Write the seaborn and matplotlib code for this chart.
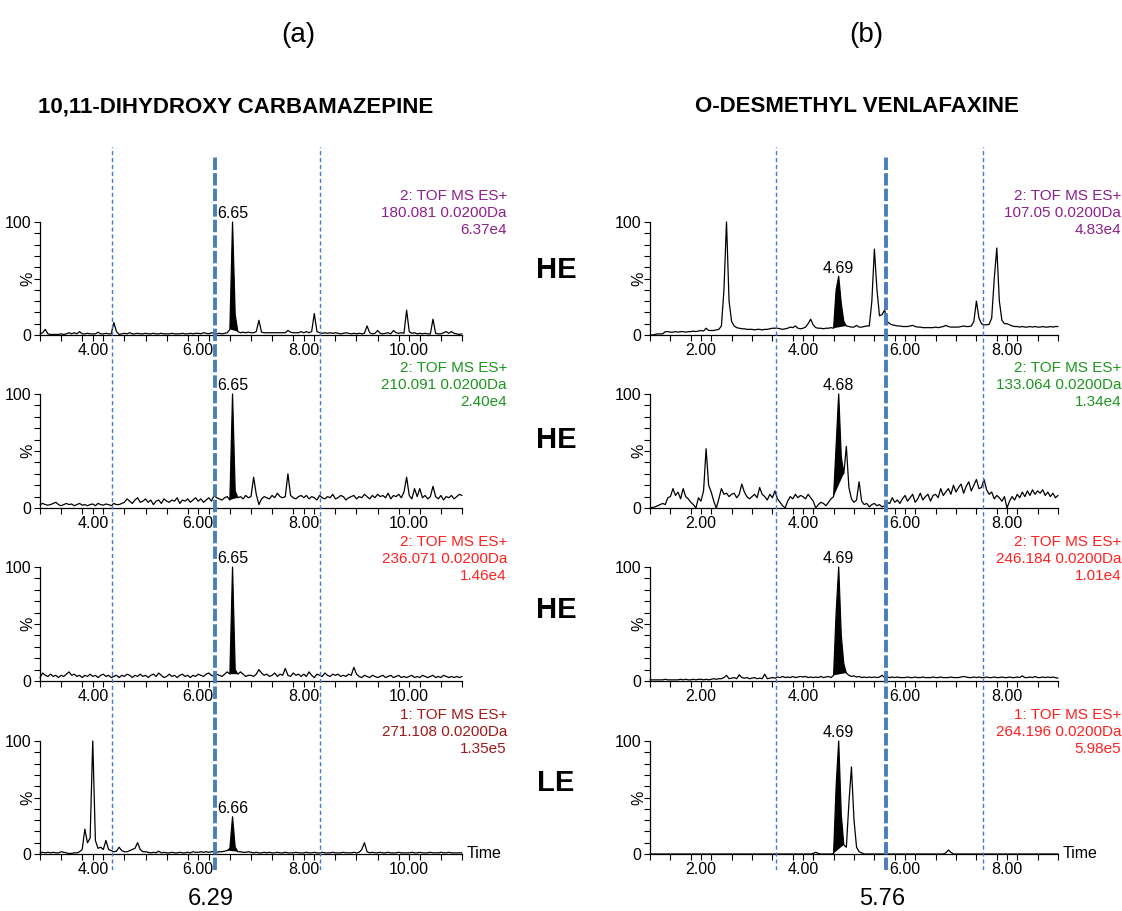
import numpy as np
import matplotlib
matplotlib.use("Agg")
import matplotlib.pyplot as plt
import seaborn as sns
from matplotlib.ticker import FixedLocator

sns.set_style("ticks")
plt.rcParams["font.family"] = ["Liberation Sans", "DejaVu Sans"]
plt.rcParams["text.color"] = "black"
plt.rcParams["axes.labelcolor"] = "black"
plt.rcParams["xtick.color"] = "black"
plt.rcParams["ytick.color"] = "black"
plt.rcParams["axes.edgecolor"] = "black"

# ---------------- data ----------------
# scan times (min)
time_a = np.round(np.arange(3.0, 11.0001, 0.05), 2)
time_b = np.round(np.arange(1.0, 9.0001, 0.05), 2)

# (a) 10,11-dihydroxy carbamazepine, relative intensity (%)
a_180 = ([1, 2, 5, 1, 0.5, 0.5, 0.5, 0.5, 1, 0.5, 1, 2, 1, 2, 1, 3, 1, 1, 1.5, 1]
         + [1, 1, 2.5, 1, 1, 1.5, 1, 1, 11, 3, 0.5, 1, 1.5, 1, 2, 1, 1, 1.5, 1, 1]
         + [1.5, 1, 1, 1.5, 1, 1, 1.5, 1, 1, 1, 1.5, 1, 1, 1, 1.5, 1, 1, 1.5, 1, 1.5]
         + [1.5, 1, 2, 1.5, 1, 2, 1.5, 1, 1.5, 1, 1.5, 2, 5, 100, 18, 3, 2, 2.5, 2, 2.5]
         + [2, 2, 3, 13, 2.5, 2, 2, 2, 2, 2, 2, 2, 2, 2, 4, 2.5, 2, 2, 2, 3]
         + [2, 3, 2, 3, 19, 3, 2, 1.5, 2, 1.5, 2, 1.5, 2, 1.5, 1, 1.5, 2, 1.5, 1, 1.5]
         + [1, 1.5, 1, 1.5, 8, 2, 1, 1.5, 4, 1.5, 1, 1.5, 2, 1, 4, 2, 1.5, 2, 1.5, 22]
         + [3, 1.5, 2, 1, 1.5, 1, 1.5, 1, 1, 14, 1.5, 1, 1, 2, 3, 1.5, 3, 1.5, 1, 0.5]
         + [1])
a_210 = ([3, 4, 3, 2.5, 3, 4, 5, 3, 2, 3, 4, 3, 3.5, 2, 3, 4, 2.5, 3, 2, 3]
         + [3.5, 2, 4, 3, 2.5, 3.5, 3, 2, 4, 3, 3, 4, 5, 8, 6, 4, 7, 9, 5, 6]
         + [8, 5, 7, 3, 6, 7, 4, 8, 6, 5, 7, 6, 9, 4, 7, 6, 8, 5, 7, 9]
         + [6, 8, 5, 7, 9, 6, 11, 9, 8, 7, 9, 10, 7, 100, 15, 9, 10, 8, 11, 9]
         + [10, 27, 12, 3, 8, 10, 9, 8, 11, 9, 13, 10, 9, 10, 30, 11, 9, 8, 10, 11]
         + [9, 11, 8, 10, 9, 7, 11, 9, 8, 10, 9, 12, 8, 9, 11, 10, 7, 9, 10, 11]
         + [8, 10, 9, 12, 10, 8, 11, 9, 12, 10, 11, 9, 13, 8, 11, 10, 12, 9, 14, 27]
         + [11, 8, 17, 10, 17, 9, 11, 8, 10, 19, 10, 8, 11, 7, 10, 9, 11, 8, 10, 12]
         + [11])
a_236 = ([3, 7, 5, 4, 6, 4, 5, 3, 5, 4, 6, 8, 5, 6, 4, 5, 3, 5, 4, 6]
         + [4, 5, 3, 5, 6, 4, 5, 3, 4, 5, 3, 5, 4, 6, 5, 3, 5, 4, 6, 4]
         + [5, 3, 5, 6, 4, 7, 5, 3, 4, 6, 4, 5, 3, 5, 6, 4, 5, 3, 5, 4]
         + [6, 5, 4, 6, 7, 5, 4, 6, 5, 4, 6, 8, 6, 100, 10, 6, 8, 6, 4, 5]
         + [5, 4, 6, 10, 7, 5, 6, 4, 5, 7, 4, 6, 5, 11, 5, 4, 7, 5, 6, 4]
         + [6, 4, 8, 5, 3, 6, 5, 4, 7, 5, 4, 6, 5, 6, 4, 5, 4, 6, 5, 12]
         + [6, 4, 3, 5, 4, 3, 5, 4, 3, 4, 5, 3, 4, 5, 3, 4, 5, 3, 4, 3]
         + [4, 5, 3, 4, 3, 5, 4, 3, 4, 5, 3, 4, 3, 5, 4, 3, 4, 3, 4, 3]
         + [4])
a_271 = ([1, 1.5, 1, 1.5, 1, 1.5, 1, 1, 2, 1.5, 1, 0.5, 0.5, 1, 1, 2, 4, 22, 10, 14]
         + [100, 12, 5, 6, 4, 12, 4, 3, 2, 2.5, 6, 3, 2, 2, 3, 4, 5, 10, 4, 2]
         + [2, 1.5, 1, 1.5, 1, 2.5, 1, 1.5, 1, 1, 1.5, 1, 1, 1.5, 1, 1, 1.5, 1, 2, 1.5]
         + [1.5, 2, 1.5, 2, 1.5, 2, 2, 1.5, 2, 2, 2.5, 3, 5, 33, 6, 2, 2, 1.5, 1.5, 2]
         + [1.5, 1, 1.5, 1, 1, 1.5, 1, 1.5, 1, 1, 1.5, 1, 1, 1.5, 1, 1, 1, 1.5, 1, 1]
         + [1, 1.5, 1, 1, 1.5, 1, 1, 1.5, 1, 1, 1, 1.5, 1, 1, 1, 1.5, 1, 1, 1, 1.5]
         + [1, 1.5, 4, 10, 2, 1, 1.5, 1, 1, 1.5, 1, 1, 1.5, 1, 1, 1, 1.5, 1, 1, 1]
         + [1, 1.5, 1, 1, 1.5, 1, 1, 1, 1.5, 1, 1, 1, 1.5, 1, 1, 1.5, 1, 1, 1, 1]
         + [1])

# (b) O-desmethyl venlafaxine, relative intensity (%)
b_107 = ([0, 0, 0.5, 1, 1, 1, 3, 3, 2.5, 2.5, 3, 2.5, 3, 3, 2.5, 3, 3, 3.5, 3, 3.5]
         + [4, 3.5, 6, 4, 4, 4, 4.5, 5, 8, 40, 100, 30, 12, 8, 6.5, 6, 5.5, 5.5, 5, 5]
         + [5, 4.5, 5, 5, 4.5, 5, 5, 5.5, 6, 6, 6, 5.5, 5, 5.5, 6, 7, 6.5, 8, 6, 5.5]
         + [6, 7, 10, 14, 9, 6.5, 6, 6, 5.5, 6, 6, 6.5, 6, 40, 52, 28, 12, 8, 7.5, 7]
         + [7, 8.5, 7, 7, 7.5, 8, 8, 30, 76, 40, 17, 18, 22, 12, 10, 9, 8.5, 8, 8, 7.5]
         + [7.5, 7.5, 8, 8.5, 7.5, 7, 7, 6.5, 6.5, 6.5, 6.5, 6.5, 7, 6.5, 7, 7.5, 8.5, 7.5, 7, 7]
         + [7, 7, 7.5, 8, 7.5, 7.5, 8, 12, 30, 15, 10, 9, 9, 9.5, 15, 50, 77, 30, 13, 10]
         + [10, 9, 8, 7.5, 7.5, 7, 7.5, 7, 7, 7.5, 7, 7.5, 7, 7, 7.5, 7, 7, 7.5, 7, 7.5]
         + [7.5])
b_133 = ([0, 0.5, 1, 2, 3, 4, 3, 9, 10, 17, 11, 14, 8, 17, 10, 8, 5, 3, 0, 9]
         + [6, 15, 52, 20, 14, 6, 0, 8, 17, 12, 13, 10, 12, 13, 9, 12, 21, 14, 10, 8]
         + [10, 12, 9, 18, 12, 10, 7, 12, 9, 15, 8, 5, 2, 0, 6, 10, 8, 12, 9, 11]
         + [10, 8, 12, 9, 6, 0, 3, 5, 4, 2, 5, 8, 10, 55, 100, 45, 30, 54, 18, 8]
         + [5, 7, 23, 6, 3, 4, 1, 3, 4, 2, 3, 1, 2, 5, 4, 9, 5, 7, 4, 8]
         + [11, 6, 9, 12, 5, 8, 13, 7, 10, 12, 6, 11, 12, 9, 17, 11, 14, 17, 12, 20]
         + [14, 18, 21, 13, 19, 23, 15, 20, 25, 17, 18, 25, 16, 12, 14, 8, 11, 9, 6, 10]
         + [0, 6, 10, 7, 12, 9, 14, 10, 15, 11, 16, 12, 15, 13, 16, 11, 14, 10, 13, 9]
         + [11])
b_246 = ([1, 1, 1, 1, 1, 1, 1.5, 1, 1, 1, 1, 1, 1.5, 1, 1.5, 1, 1, 1.5, 1, 1.5]
         + [1.5, 1, 1.5, 1, 1.5, 2, 1.5, 2, 2, 3, 5, 2, 2.5, 3, 2, 5.5, 3, 2.5, 3, 2]
         + [2.5, 3, 2, 2.5, 2, 6, 2, 2.5, 3, 2.5, 3.5, 3, 4, 3, 3.5, 3, 4, 3, 3.5, 4]
         + [3.5, 4, 3, 3.5, 3, 3.5, 3, 4, 3, 3.5, 4, 3, 5, 60, 100, 40, 15, 7, 5, 4]
         + [4.5, 3.5, 4, 3, 3.5, 3, 3.5, 3, 3.5, 3, 3.5, 5, 3, 3.5, 3, 3.5, 3, 3.5, 3, 3]
         + [3, 3.5, 3, 3, 3.5, 3, 3, 3.5, 3, 3, 3, 3.5, 3, 3, 3.5, 3, 3, 3, 3.5, 3]
         + [3, 3, 3.5, 4, 3.5, 3, 3, 3.5, 3, 3.5, 3, 3, 3.5, 3, 3, 3.5, 3, 3, 3.5, 3]
         + [3, 3.5, 3, 3, 3.5, 3, 4.5, 3, 3, 3.5, 3, 4, 3, 3, 3.5, 3, 3.5, 3, 3.5, 3]
         + [2.5])
b_264 = ([0] * 20 + [0] * 20 + [0] * 20
         + [0, 0, 0, 0, 0.5, 1.5, 0.5, 0, 0, 0, 0, 0, 0.5, 60, 100, 35, 8, 6, 45, 77]
         + [30, 6, 2, 1] + [0] * 16
         + [0] * 16 + [1, 3.5, 1.5, 0]
         + [0] * 20 + [0] * 20
         + [0])

# channel annotations
chan_a = ["2: TOF MS ES+\n180.081 0.0200Da\n6.37e4",
          "2: TOF MS ES+\n210.091 0.0200Da\n2.40e4",
          "2: TOF MS ES+\n236.071 0.0200Da\n1.46e4",
          "1: TOF MS ES+\n271.108 0.0200Da\n1.35e5"]
chan_b = ["2: TOF MS ES+\n107.05 0.0200Da\n4.83e4",
          "2: TOF MS ES+\n133.064 0.0200Da\n1.34e4",
          "2: TOF MS ES+\n246.184 0.0200Da\n1.01e4",
          "1: TOF MS ES+\n264.196 0.0200Da\n5.98e5"]
chan_colors_a = ["#8e1f8e", "#1e961e", "#ff2020", "#a01818"]
chan_colors_b = ["#8e1f8e", "#1e961e", "#ff2020", "#ff2020"]
peak_labels_a = ["6.65", "6.65", "6.65", "6.66"]
peak_labels_b = ["4.69", "4.68", "4.69", "4.69"]
fill_a = [(6.60, 6.75), (6.60, 6.75), (6.60, 6.75), (6.55, 6.75)]
fill_b = [(4.60, 4.85), (4.60, 4.80), (4.60, 4.85), (4.60, 4.80)]
energy_labels = ["HE", "HE", "HE", "LE"]
marks_a = [4.37, 6.31, 8.31]
marks_b = [3.47, 5.63, 7.53]
window_a = "6.29"
window_b = "5.76"

# ---------------- layout ----------------
W, H = 1122, 911
fig = plt.figure(figsize=(W / 100, H / 100), dpi=100)
fig.patch.set_facecolor("white")


def fx(px):
    return px / W


def fy(py):
    return 1 - py / H


cols = [
    dict(x0=40, x1=462, xlim=(3.0, 11.0), time=time_a, traces=[a_180, a_210, a_236, a_271],
         chan=chan_a, ccol=chan_colors_a, plab=peak_labels_a, fills=fill_a,
         xt=[4, 6, 8, 10], text_right=507, marks=marks_a, title="10,11-DIHYDROXY CARBAMAZEPINE",
         title_x=236, tag="(a)", tag_x=298, win=window_a, win_x=211, ylab=-0.012),
    dict(x0=650, x1=1058, xlim=(1.0, 9.0), time=time_b, traces=[b_107, b_133, b_246, b_264],
         chan=chan_b, ccol=chan_colors_b, plab=peak_labels_b, fills=fill_b,
         xt=[2, 4, 6, 8], text_right=1121, marks=marks_b, title="O-DESMETHYL VENLAFAXINE",
         title_x=857, tag="(b)", tag_x=866, win=window_b, win_x=882, ylab=-0.010),
]
rows = [(222, 335), (394, 508), (567, 681), (741, 854)]
text_mid = [213, 385, 559, 732]
energy_y = [270, 440, 610, 783]

for c in cols:
    t = np.asarray(c["time"])
    for r, (ytop, ybot) in enumerate(rows):
        ax = fig.add_axes([fx(c["x0"]), fy(ybot), fx(c["x1"] - c["x0"]), (ybot - ytop) / H])
        ax.patch.set_alpha(0)
        y = np.asarray(c["traces"][r], dtype=float)
        sns.lineplot(x=t, y=y, ax=ax, color="black", linewidth=0.9,
                     estimator=None, sort=False)
        for ln in ax.get_lines():
            ln.set_clip_on(False)
        f0, f1 = c["fills"][r]
        m = (t >= f0 - 1e-6) & (t <= f1 + 1e-6)
        ax.fill(t[m], y[m], color="black", linewidth=0, zorder=3)
        i_apex = int(np.argmax(np.where(m, y, -1)))
        ax.annotate(c["plab"][r], xy=(t[i_apex], y[i_apex]), xytext=(0, 0.5),
                    textcoords="offset points", ha="center", va="bottom",
                    fontsize=11.5, annotation_clip=False)
        ax.set_xlim(*c["xlim"])
        ax.set_ylim(0, 100)
        sns.despine(ax=ax)
        ax.spines["left"].set_linewidth(0.9)
        ax.spines["bottom"].set_linewidth(0.9)
        ax.set_yticks([0, 100])
        ax.set_yticklabels(["0", "100"])
        ax.yaxis.set_minor_locator(FixedLocator(np.arange(10, 100, 10)))
        ax.set_xticks(c["xt"])
        ax.set_xticklabels([f"{v:.2f}" for v in c["xt"]])
        ax.xaxis.set_minor_locator(FixedLocator(np.arange(c["xlim"][0], c["xlim"][1] + 0.01, 0.4)))
        ax.tick_params(which="both", direction="out", length=4, width=0.8,
                       labelsize=11.5, pad=2, color="black", labelcolor="black")
        ax.set_xlabel("")
        ax.set_ylabel("%", fontsize=11.5)
        ax.yaxis.set_label_coords(c["ylab"], 0.5)
        if r == 3:
            ax.text(1.012, 0, "Time", transform=ax.transAxes, ha="left", va="center",
                    fontsize=11.5)
        fig.text(fx(c["text_right"]), fy(text_mid[r]), c["chan"][r], color=c["ccol"][r],
                 ha="right", va="center", fontsize=11, linespacing=1.25)

    # vertical marker lines spanning the column
    ov = fig.add_axes([fx(c["x0"]), fy(870), fx(c["x1"] - c["x0"]), (870 - 147) / H])
    ov.set_xlim(*c["xlim"])
    ov.set_ylim(0, 1)
    ov.axis("off")
    ov.patch.set_alpha(0)
    ov.axvline(c["marks"][0], color="#3b7dd6", lw=1.0, ls=(0, (3, 2)))
    ov.axvline(c["marks"][2], color="#3b7dd6", lw=1.0, ls=(0, (3, 2)))
    ov.axvline(c["marks"][1], ymax=1 - 8 / 723, color="#4a7ebb", lw=2.8, ls=(0, (3.2, 0.8)))

    fig.text(fx(c["tag_x"]), fy(35), c["tag"], ha="center", va="center", fontsize=20)
    fig.text(fx(c["title_x"]), fy(107), c["title"], ha="center", va="center",
             fontsize=16, fontweight="bold")
    fig.text(fx(c["win_x"]), fy(899), c["win"], ha="center", va="center", fontsize=17)

for lab, yy in zip(energy_labels, energy_y):
    fig.text(fx(556), fy(yy), lab, ha="center", va="center", fontsize=21, fontweight="bold")

fig.savefig("out.png", dpi=100)
